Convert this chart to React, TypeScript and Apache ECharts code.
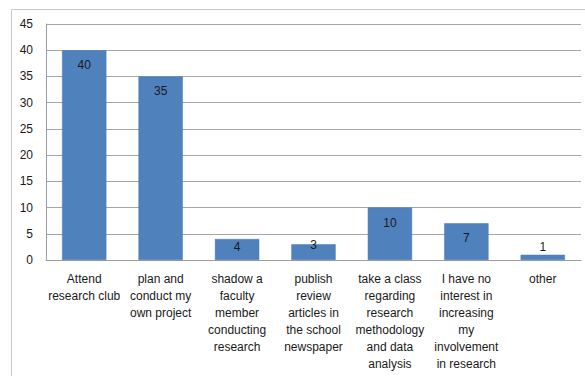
import React, { useEffect, useRef } from "react";
import * as echarts from "echarts";

const categories = [
  "Attend\nresearch club",
  "plan and\nconduct my\nown project",
  "shadow a\nfaculty\nmember\nconducting\nresearch",
  "publish\nreview\narticles in\nthe school\nnewspaper",
  "take a class\nregarding\nresearch\nmethodology\nand data\nanalysis",
  "I have no\ninterest in\nincreasing\nmy\ninvolvement\nin research",
  "other",
];
const values = [40, 35, 4, 3, 10, 7, 1];
const yMin = 0;
const yMax = 45;
const yStep = 5;

const FONT = "'Liberation Sans', Arial, sans-serif";

function labelFor(v: number) {
  if (v >= 5) return { position: "insideTop", distance: 9 };
  if (v >= 4) return { position: "insideTop", distance: 2 };
  if (v >= 2) return { position: "insideTop", distance: -5 };
  return { position: "top", distance: 2 };
}

export default function App() {
  const ref = useRef<HTMLDivElement>(null);
  useEffect(() => {
    if (!ref.current) return;
    const chart = echarts.init(ref.current, null, { renderer: "svg" });
    chart.setOption({
      animation: false,
      backgroundColor: "#ffffff",
      graphic: [
        {
          type: "rect",
          shape: { x: 11.5, y: 9.5, width: 700, height: 500 },
          style: { fill: "none", stroke: "#c8c8c8", lineWidth: 1 },
          silent: true,
          z: -10,
        },
      ],
      grid: { left: 46, right: 4, top: 24, bottom: 116, containLabel: false },
      xAxis: {
        type: "category",
        data: categories,
        axisLine: { show: true, lineStyle: { color: "#9e9e9e", width: 1 } },
        axisTick: { show: false },
        axisLabel: {
          interval: 0,
          margin: 10,
          fontFamily: FONT,
          fontSize: 12,
          lineHeight: 17,
          color: "#1a1a1a",
          align: "center",
        },
      },
      yAxis: {
        type: "value",
        min: yMin,
        max: yMax,
        interval: yStep,
        axisLine: { show: true, lineStyle: { color: "#9e9e9e", width: 1 } },
        axisTick: { show: false },
        splitLine: { show: true, lineStyle: { color: "#a6a6a6", width: 1 } },
        axisLabel: {
          margin: 13,
          fontFamily: FONT,
          fontSize: 12,
          color: "#1a1a1a",
        },
      },
      series: [
        {
          type: "bar",
          barCategoryGap: "42%",
          data: values.map((v) => ({
            value: v,
            label: {
              show: true,
              ...labelFor(v),
              fontFamily: FONT,
              fontSize: 12,
              color: "#1a1a1a",
            },
          })),
          itemStyle: { color: "#4F81BD", borderColor: "#4a7ab5", borderWidth: 0.5 },
        },
      ],
    });
    return () => chart.dispose();
  }, []);
  return <div ref={ref} style={{ width: 585, height: 376, position: "absolute", left: 0, top: 0 }} />;
}
